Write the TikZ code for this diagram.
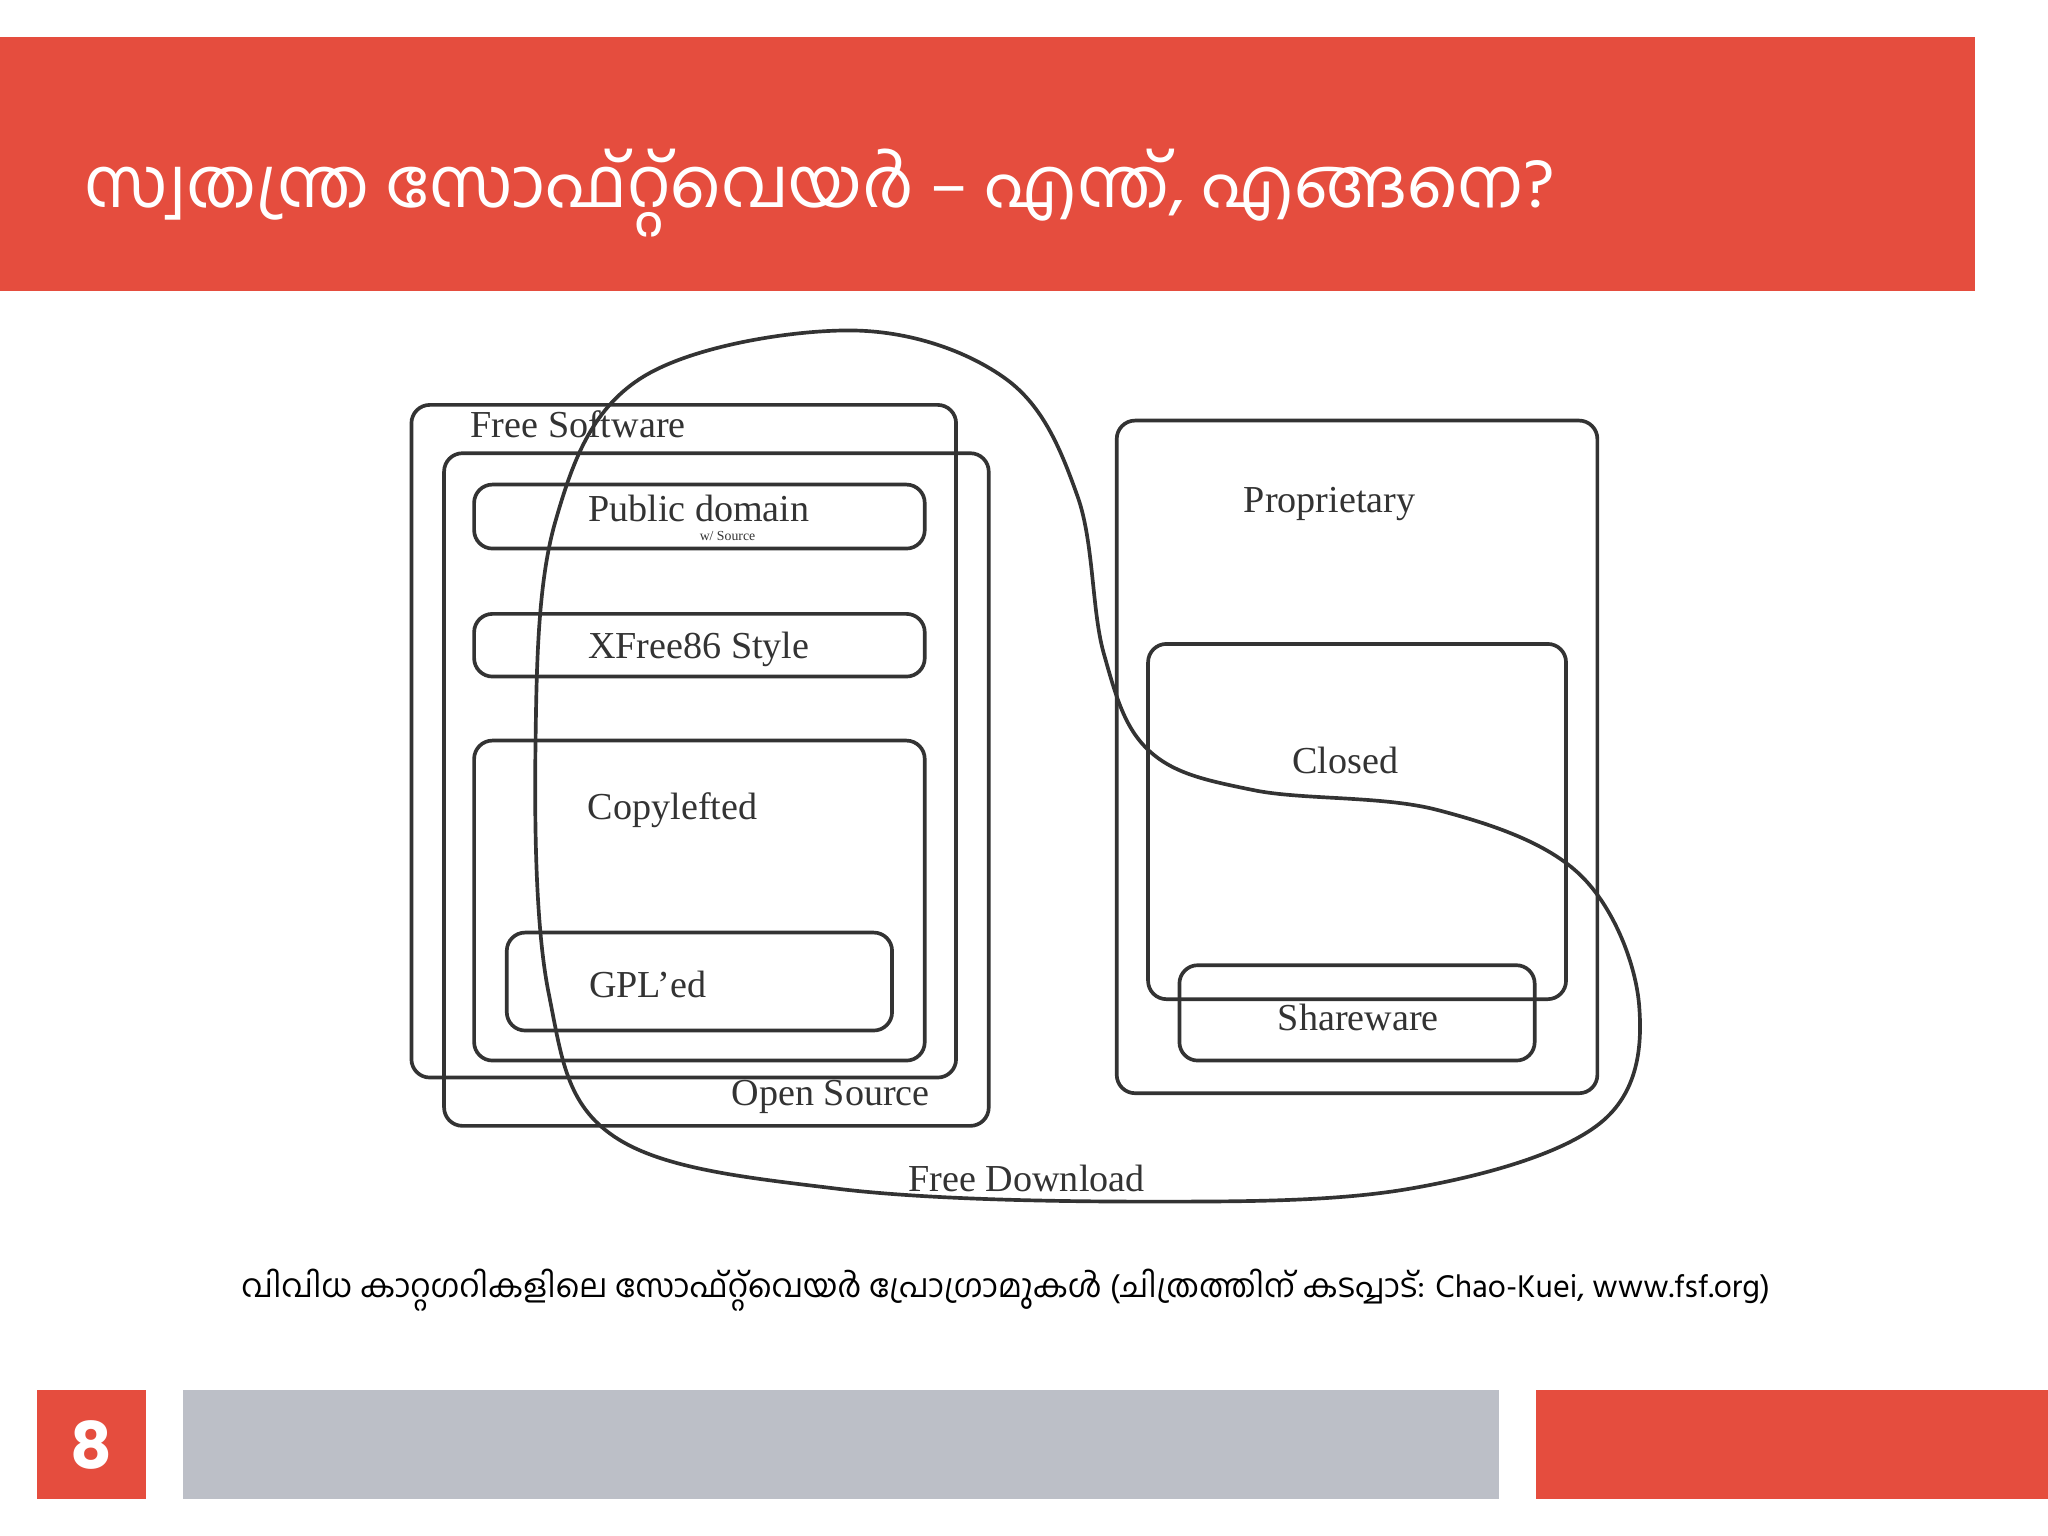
\documentclass[tikz,border=0pt]{standalone}
\usepackage{fontspec}
\newfontfamily\mlfont[Script=Malayalam]{Hind Kochi}
\newfontfamily\popfont{Poppins}
\setmainfont{Liberation Serif}
\definecolor{myred}{HTML}{E54D3E}
\definecolor{mygray}{HTML}{BCBFC7}
\definecolor{ln}{HTML}{333333}
\tikzset{bx/.style={draw=ln,line width=0.8pt,rounded corners=4pt},
 lb/.style={text=ln,font=\fontsize{8.3}{10}\selectfont}}
\begin{document}
\begin{tikzpicture}[x=0.01cm,y=-0.01cm]
\useasboundingbox (0,0) rectangle (1568,1176);
\fill[myred] (0,28) rectangle (1512,223);
\node[anchor=west,text=white,font=\mlfont\fontsize{15}{18}\selectfont] (title) at (52,148) {സ്വതന്ത്ര സോഫ്റ്റ്‌വെയർ – എന്ത്, എങ്ങനെ?};
\fill[myred] (28,1064) rectangle (112,1148);
\node[text=white,font=\popfont\bfseries\fontsize{14}{16}\selectfont] (pg) at (70,1106) {8};
\fill[mygray] (140,1064) rectangle (1148,1148);
\fill[myred] (1176,1064) rectangle (1568,1148);
\node[font=\mlfont\fontsize{7}{9}\selectfont] (cap) at (770,988) {വിവിധ കാറ്റഗറികളിലെ സോഫ്റ്റ്‌വെയർ പ്രോഗ്രാമുകൾ (ചിത്രത്തിന് കടപ്പാട്: Chao-Kuei, www.fsf.org)};
% boxes
\draw[bx] (315,310) rectangle (732,825);
\draw[bx] (340,347) rectangle (757,862);
\draw[bx] (363,371) rectangle (708,420);
\draw[bx] (363,470) rectangle (708,518);
\draw[bx] (363,567) rectangle (708,812);
\draw[bx] (388,714) rectangle (683,789);
\draw[bx] (855,322) rectangle (1223,837);
\draw[bx] (879,493) rectangle (1199,765);
\draw[bx] (903,739) rectangle (1175,812);
\node[lb,anchor=west] (fs) at (348,325) {Free Software};
\node[lb] (pd) at (535,389) {Public domain};
\node[text=ln,font=\fontsize{3}{4}\selectfont] (ws) at (557,410) {w/ Source};
\node[lb] (xf) at (535,497) {XFree86 Style};
\node[lb] (cl) at (515,620) {Copylefted};
\node[lb] (gpl) at (496,754) {GPL'ed};
\node[lb] (os) at (636,840) {Open Source};
\node[lb] (pr) at (1018,386) {Proprietary};
\node[lb] (cd) at (1030,582) {Closed};
\node[lb] (sw) at (1040,779) {Shareware};
\node[lb] (fd) at (786,902) {Free Download};
\draw[ln,line width=0.8pt] plot[smooth cycle,tension=0.6] coordinates {
(650,253) (770,290) (825,380) (845,500) (880,575) (960,605) (1100,620) (1210,670) (1255,770) (1225,860) (1080,910) (880,920) (640,910) (470,870) (420,760) (410,570) (425,400) (490,290)};
\end{tikzpicture}
\end{document}
